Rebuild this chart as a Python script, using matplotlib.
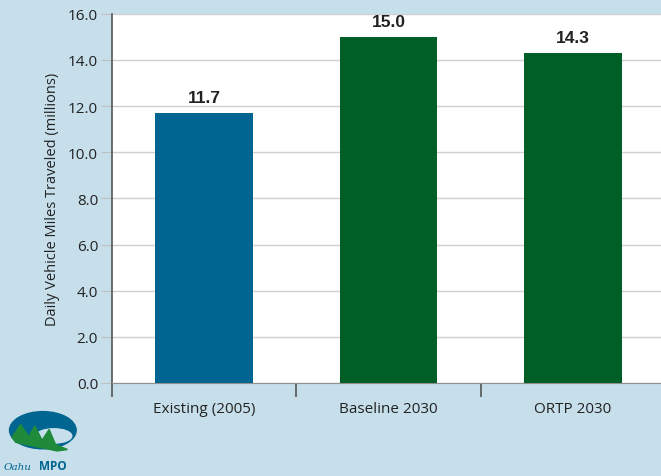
import matplotlib.pyplot as plt
from matplotlib.patches import Ellipse, Polygon

categories = ["Existing (2005)", "Baseline 2030", "ORTP 2030"]
vmt = [11.7, 15.0, 14.3]
bar_colors = ["#006590", "#005f27", "#005f27"]
yticks = [0, 2, 4, 6, 8, 10, 12, 14, 16]

plt.rcParams['font.family'] = ['Open Sans', 'DejaVu Sans']

fig = plt.figure(figsize=(6.61, 4.77), dpi=100)
fig.patch.set_facecolor("#c6dfeb")
ax = fig.add_axes([0.1694, 0.195, 0.837, 0.774])
ax.set_facecolor("white")

x = range(len(categories))
ax.bar(x, vmt, width=0.53, color=bar_colors, zorder=3)
for i, v in enumerate(vmt):
    ax.annotate(f"{v:.1f}", (i, v), xytext=(0, 6), textcoords="offset points",
                ha="center", va="bottom", fontsize=12.5, fontweight="bold",
                family=["Liberation Sans"], color="#222222")

ax.set_xlim(-0.5, 2.5)
ax.set_ylim(0, 16)
ax.set_yticks(yticks)
ax.set_yticklabels([f"{t:.1f}" for t in yticks], fontsize=11, color="#222222")
ax.yaxis.grid(True, color="#d0d0d0", linewidth=1, zorder=0)
ax.tick_params(axis="y", length=8, color="#c0c0c0", pad=2)

# category names in the middle, ticks on the boundaries
ax.set_xticks([0, 1, 2])
ax.set_xticklabels(categories, fontsize=11, color="#222222")
ax.tick_params(axis="x", length=0, pad=13)
ax.set_xticks([-0.5, 0.5, 1.5, 2.5], minor=True)
ax.tick_params(axis="x", which="minor", length=10, color="#555555", width=1.2)

ax.set_ylabel("Daily Vehicle Miles Traveled (millions)", fontsize=10.5,
              color="#222222", labelpad=6)

for s in ["top", "right"]:
    ax.spines[s].set_visible(False)
ax.spines["left"].set_color("#555555")
ax.spines["left"].set_linewidth(1.2)
ax.spines["bottom"].set_color("#909090")

# little logo in the lower left corner
logo = fig.add_axes([0.0, 0.0, 0.12, 0.15])
logo.set_xlim(0, 10)
logo.set_ylim(0, 10)
logo.axis("off")
logo.add_patch(Ellipse((5.4, 6.4), 8.4, 5.2, color="#006590"))
logo.add_patch(Ellipse((6.8, 5.6), 4.5, 2.0, color="#c6dfeb"))
logo.add_patch(Polygon([[1.5, 5.4], [2.6, 7.2], [3.6, 5.5], [4.4, 7.0], [5.3, 5.0],
                        [6.2, 6.5], [7.0, 4.4], [8.5, 3.7], [7.2, 3.5], [2.0, 4.7]],
                       color="#1f8a3a"))
logo.text(0.5, 1.0, "Oahu", fontsize=7.5, style="italic", color="#006590",
          family=["DejaVu Serif"])
logo.text(4.9, 1.0, "MPO", fontsize=8.5, fontweight="bold", color="#006590")

fig.savefig("out.png", dpi=100, facecolor=fig.get_facecolor())
